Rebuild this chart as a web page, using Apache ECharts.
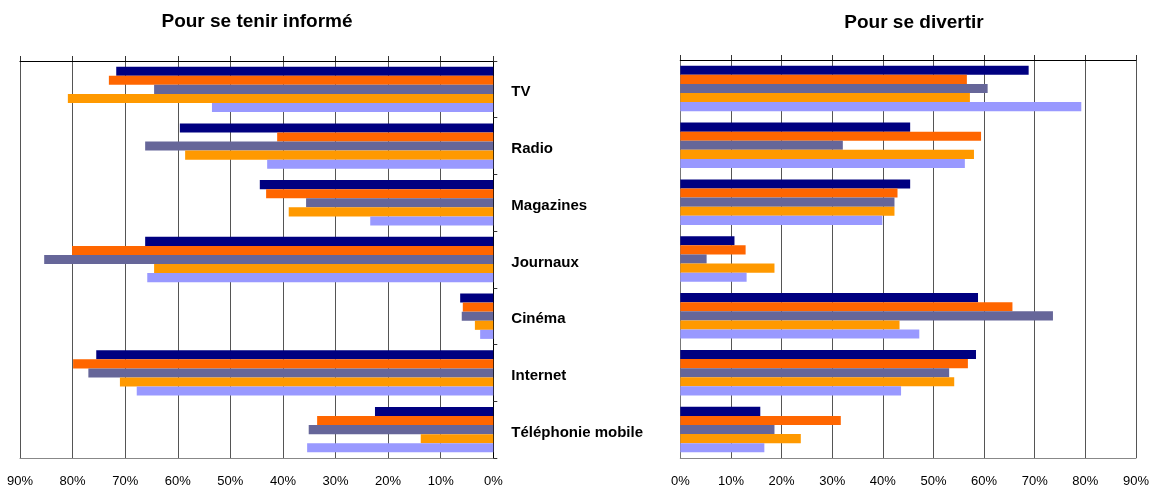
<!DOCTYPE html>
<html>
<head>
<meta charset="utf-8">
<script src="https://cdn.jsdelivr.net/npm/echarts@6/dist/echarts.min.js"></script>
<style>html,body{margin:0;padding:0;background:#fff}#c{width:1152px;height:488px}</style>
</head>
<body>
<div id="c"></div>
<script>
const categories = ['TV', 'Radio', 'Magazines', 'Journaux', 'Cinéma', 'Internet', 'Téléphonie mobile'];
const tickLabels = ['0%', '10%', '20%', '30%', '40%', '50%', '60%', '70%', '80%', '90%'];
const seriesColors = ['#000080', '#FF6600', '#666699', '#FF9900', '#9999FF'];
// "Pour se tenir informé" (one array per series, by category)
const info1 = [71.7, 59.6, 44.4, 66.2, 6.3, 75.5, 22.5];
const info2 = [73.1, 41.1, 43.2, 80.1, 5.8, 79.9, 33.5];
const info3 = [64.5, 66.2, 35.6, 85.4, 6.0, 77.0, 35.1];
const info4 = [80.9, 58.6, 38.9, 64.5, 3.5, 71.0, 13.8];
const info5 = [53.5, 43.0, 23.4, 65.8, 2.5, 67.8, 35.4];
// "Pour se divertir"
const div1 = [68.8, 45.4, 45.4, 10.7, 58.8, 58.4, 15.8];
const div2 = [56.6, 59.4, 42.9, 12.9, 65.6, 56.8, 31.7];
const div3 = [60.7, 32.1, 42.3, 5.2, 73.6, 53.1, 18.6];
const div4 = [57.2, 58.0, 42.3, 18.6, 43.3, 54.1, 23.8];
const div5 = [79.2, 56.2, 39.9, 13.1, 47.2, 43.6, 16.6];

const infoSeries = [info1, info2, info3, info4, info5];
const divSeries = [div1, div2, div3, div4, div5];

const FONT = 'Liberation Sans, Arial, sans-serif';
const chart = echarts.init(document.getElementById('c'), null, {renderer: 'canvas'});

function valueAxes(gridIndex, inverse) {
  return [
    {
      type: 'value', gridIndex: gridIndex, position: 'bottom', inverse: inverse,
      min: 0, max: 90, interval: 10,
      axisLine: {show: true, onZero: false, lineStyle: {color: '#888', width: 1}},
      axisTick: {show: false},
      splitLine: {show: true, lineStyle: {color: '#555', width: 1}},
      axisLabel: {
        margin: 17, color: '#000', fontFamily: FONT, fontSize: 13,
        formatter: function (v) { return tickLabels[Math.round(v / 10)]; }
      }
    },
    {
      type: 'value', gridIndex: gridIndex, position: 'top', inverse: inverse,
      min: 0, max: 90, interval: 10,
      axisLine: {show: true, onZero: false, lineStyle: {color: '#000', width: 1.2}},
      axisTick: {show: true, length: 5, lineStyle: {color: '#333'}},
      splitLine: {show: false},
      axisLabel: {show: false}
    }
  ];
}

const series = [];
infoSeries.forEach(function (d, i) {
  series.push({
    type: 'bar', xAxisIndex: 0, yAxisIndex: 0, data: d,
    barGap: '0%', barCategoryGap: '20%',
    itemStyle: {color: seriesColors[i]}, silent: true
  });
});
divSeries.forEach(function (d, i) {
  series.push({
    type: 'bar', xAxisIndex: 2, yAxisIndex: 1, data: d,
    barGap: '0%', barCategoryGap: '20%',
    itemStyle: {color: seriesColors[i]}, silent: true
  });
});

chart.setOption({
  animation: false,
  backgroundColor: '#fff',
  title: [
    {text: 'Pour se tenir informé', left: 257, top: 12.5, padding: 0, textAlign: 'center',
     textStyle: {fontFamily: FONT, fontSize: 19, fontWeight: 'bold', color: '#000'}},
    {text: 'Pour se divertir', left: 914, top: 13.5, padding: 0, textAlign: 'center',
     textStyle: {fontFamily: FONT, fontSize: 19, fontWeight: 'bold', color: '#000'}}
  ],
  grid: [
    {left: 20, top: 61, width: 473.3, height: 401.3, containLabel: false},
    {left: 680.3, top: 60, width: 459, height: 402.3, containLabel: false}
  ],
  xAxis: valueAxes(0, true).concat(valueAxes(1, false)),
  yAxis: [
    {
      type: 'category', gridIndex: 0, position: 'right', inverse: true, data: categories,
      axisLine: {show: true, lineStyle: {color: '#000', width: 1}},
      axisTick: {show: true, length: 4, lineStyle: {color: '#333'}},
      axisLabel: {margin: 18, align: 'left', verticalAlign: 'top', lineHeight: 6, color: '#000', fontFamily: FONT, fontSize: 15, fontWeight: 'bold'}
    },
    {
      type: 'category', gridIndex: 1, position: 'left', inverse: true, data: categories,
      axisLine: {show: true, lineStyle: {color: '#777', width: 1}},
      axisTick: {show: false},
      axisLabel: {show: false}
    }
  ],
  series: series
});
</script>
</body>
</html>
